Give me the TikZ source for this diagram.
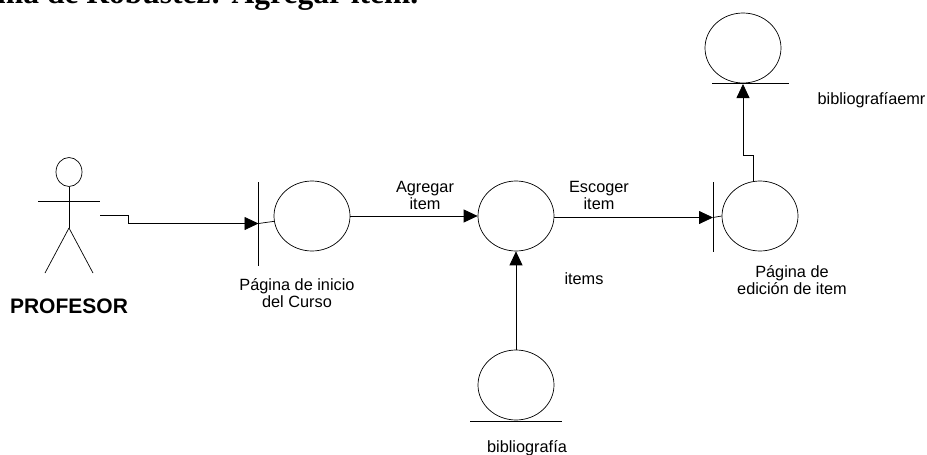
\documentclass[tikz,border=0pt]{standalone}
\usepackage{fontspec}
\setmainfont{Liberation Sans}
\newfontfamily\titlefont{Liberation Serif}
\usetikzlibrary{positioning, arrows.meta, shapes}
\tikzstyle{arrow} = [line width=0.8pt,-{Triangle[length=14pt,width=13pt]}]
\tikzstyle{connect} = [line width=0.7pt,-]
\tikzstyle{circ} = [ellipse, draw=black, line width=0.7pt, minimum width=76pt, minimum height=70pt, inner sep=0pt]
\tikzstyle{label} = [font=\fontsize{16.3}{17}\selectfont, align=center, inner sep=0pt]
\begin{document}
\begin{tikzpicture}[x=1pt,y=-1pt]
    \useasboundingbox (0,0) rectangle (927,455);
    \node (title) [anchor=base west, inner sep=0pt, font=\titlefont\bfseries\fontsize{31.5}{36}\selectfont] at (-3,3) {ma de Robustez: Agregar item.};

    % actor
    \node (head) [ellipse, draw=black, line width=0.7pt, minimum width=26pt, minimum height=29pt, inner sep=0pt] at (69,172) {};
    \coordinate (hip) at (69,228);
    \coordinate (arml) at (38,201);
    \coordinate (armr) at (100,201);
    \coordinate (neck) at (69,201);
    \coordinate (footl) at (45,273);
    \coordinate (footr) at (93,273);
    \node (prof) [anchor=base, inner sep=0pt, font=\bfseries\fontsize{21}{24}\selectfont] at (69,313) {PROFESOR};

    % circles
    \node (inicio) [circ] at (312,216) {};
    \node (items) [circ] at (516,216) {};
    \node (edicion) [circ] at (760,216) {};
    \node (biblio) [circ] at (516,385) {};
    \node (emr) [circ] at (743,48) {};

    % bars
    \coordinate (inicio_a) at (258.5,182);
    \coordinate (inicio_b) at (258.5,266);
    \coordinate (edicion_a) at (713,182);
    \coordinate (edicion_b) at (713,252);
    \coordinate (biblio_a) at (470,421);
    \coordinate (biblio_b) at (562,421);
    \coordinate (emr_a) at (712,83.5);
    \coordinate (emr_b) at (789,83.5);

    % free ends of connectors
    \coordinate (start) at (100,215.5);
    \coordinate (inicio_in) at (258.5,223.5);
    \coordinate (edicion_in) at (713,217.5);
    \coordinate (emr_in) at (743,84);

    \node (l_inicio) [label] at (297,293.5) {Página de inicio\\del Curso};
    \node (l_agregar) [label] at (425,195) {Agregar\\item};
    \node (l_escoger) [label] at (599,195) {Escoger\\item};
    \node (l_edicion) [label] at (792,280) {Página de\\edición de item};
    \node (l_items) [label] at (584,279) {items};
    \node (l_biblio) [label] at (527,448) {bibliografía};
    \node (l_emr) [label] at (871.5,100.5) {bibliografíaemr};

    \draw [connect] (neck |- head.south) -- (hip);
    \draw [connect] (arml) -- (armr);
    \draw [connect] (hip) -- (footl);
    \draw [connect] (hip) -- (footr);
    \draw [connect] (inicio_a) -- (inicio_b);
    \draw [connect] (edicion_a) -- (edicion_b);
    \draw [connect] (biblio_a) -- (biblio_b);
    \draw [connect] (emr_a) -- (emr_b);

    \draw [arrow] (start) -- ++(28,0) |- (inicio_in);
    \draw [connect] (inicio_in) -- (inicio.188);
    \draw [arrow] (inicio.east) -- (items.west);
    \draw [arrow] (items.east |- edicion_in) -- (edicion_in);
    \draw [connect] (edicion_in) -- (edicion.west);
    \draw [arrow] (biblio.north) -- (items.south);
    \draw [arrow] (edicion.north -| 753,0) |- (743,155) -- (emr_in);
\end{tikzpicture}
\end{document}
